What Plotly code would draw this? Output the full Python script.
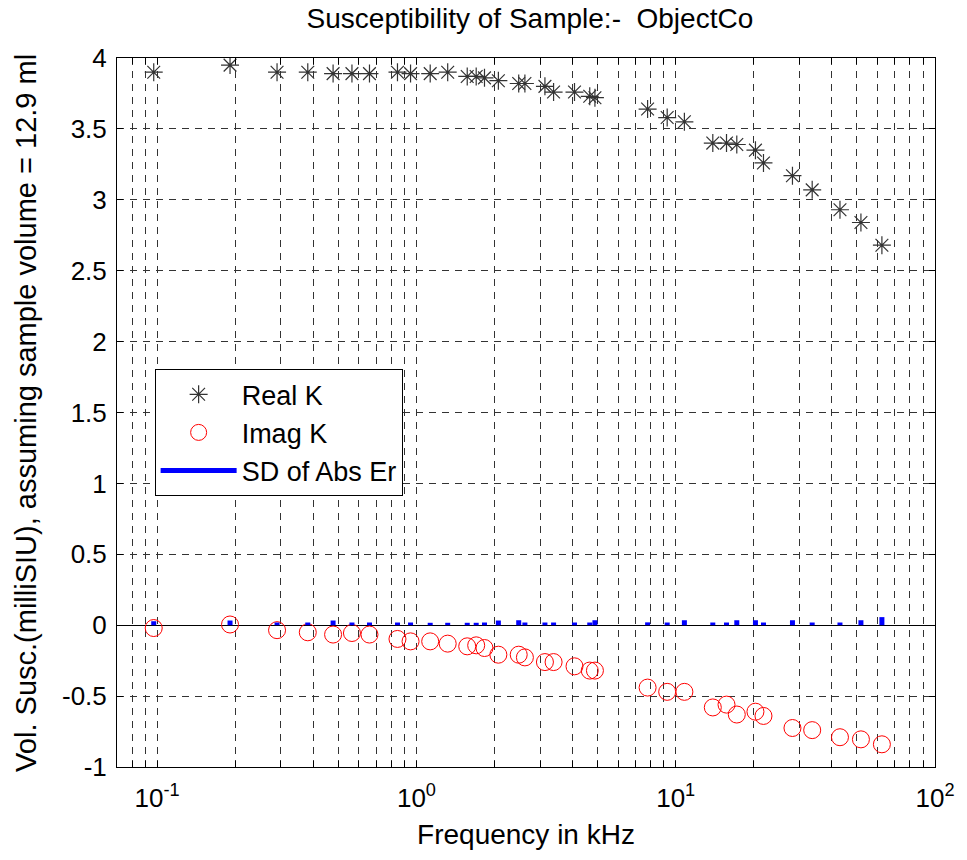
import plotly.graph_objects as go

# ---- data ----
freq_khz = [0.097, 0.191, 0.290, 0.381, 0.477, 0.564, 0.659, 0.845, 0.949, 1.13,
            1.32, 1.57, 1.70, 1.83, 2.07, 2.48, 2.62, 3.13, 3.38, 4.07,
            4.66, 4.88, 7.79, 9.27, 10.8, 13.9, 15.7, 17.2, 20.3, 21.8,
            28.2, 33.6, 43.0, 51.8, 62.4]
real_k = [3.90, 3.95, 3.90, 3.90, 3.89, 3.89, 3.89, 3.90, 3.89, 3.89,
          3.90, 3.87, 3.87, 3.86, 3.84, 3.82, 3.82, 3.80, 3.76, 3.76,
          3.73, 3.72, 3.64, 3.58, 3.55, 3.40, 3.40, 3.39, 3.35, 3.26,
          3.17, 3.07, 2.93, 2.84, 2.68]
imag_k = [-0.02, 0.005, -0.035, -0.05, -0.066, -0.055, -0.066, -0.097, -0.114, -0.114,
          -0.13, -0.149, -0.142, -0.161, -0.208, -0.208, -0.227, -0.26, -0.26, -0.29,
          -0.32, -0.32, -0.44, -0.47, -0.47, -0.58, -0.56, -0.63, -0.61, -0.64,
          -0.725, -0.74, -0.79, -0.805, -0.84]
sd_abs_er = [0.028, 0.033, 0.019, 0.019, 0.033, 0.019, 0.019, 0.019, 0.019, 0.017,
             0.017, 0.017, 0.017, 0.019, 0.033, 0.035, 0.019, 0.019, 0.019, 0.019,
             0.019, 0.035, 0.020, 0.019, 0.035, 0.019, 0.019, 0.035, 0.035, 0.019,
             0.035, 0.019, 0.019, 0.035, 0.057]

decades = [0.01, 0.1, 1, 10]
decade_labels = {0.1: "10<sup>-1</sup>", 1: "10<sup>0</sup>", 10: "10<sup>1</sup>", 100: "10<sup>2</sup>"}
y_ticks = [-1, -0.5, 0, 0.5, 1, 1.5, 2, 2.5, 3, 3.5, 4]
y_tick_labels = ["-1", "-0.5", "0", "0.5", "1", "1.5", "2", "2.5", "3", "3.5", "4"]
y_title = "Vol. Susc.(milliSIU), assuming sample volume = 12.9 ml"

# grid/tick positions at every 1..9 multiple inside the range
x_tickvals, x_ticktext = [], []
for d in decades:
    for m in range(1, 10):
        v = round(d * m, 6)
        if 0.07 <= v <= 100:
            x_tickvals.append(v)
            x_ticktext.append(decade_labels.get(v, ""))
x_tickvals.append(100)
x_ticktext.append(decade_labels[100])

# SD bars as vertical segments from 0 to value
sd_x, sd_y = [], []
for f, s in zip(freq_khz, sd_abs_er):
    sd_x += [f, f, None]
    sd_y += [0, s, None]

FONT = "Liberation Sans, Arial, sans-serif"

fig = go.Figure()
fig.add_trace(go.Scatter(
    x=freq_khz, y=real_k, mode="markers", name="Real K",
    marker=dict(symbol="asterisk-open", size=15, color="#333333",
                line=dict(color="#333333", width=1.2))))
fig.add_trace(go.Scatter(
    x=freq_khz, y=imag_k, mode="markers", name="Imag K",
    marker=dict(symbol="circle-open", size=17, color="#ff0000",
                line=dict(color="#ff0000", width=1))))
fig.add_trace(go.Scatter(
    x=sd_x, y=sd_y, mode="lines", name="SD of Abs Er",
    line=dict(color="#0000ff", width=5)))

grid_color = "#333333"
fig.update_layout(
    width=967, height=860,
    margin=dict(l=117, r=24, t=58, b=93),
    paper_bgcolor="white", plot_bgcolor="white",
    font=dict(family=FONT, color="black", size=26),
    title=dict(text="Susceptibility of Sample:-  ObjectCo", x=0.548, xanchor="center",
               y=0.979, yanchor="middle", yref="container",
               font=dict(size=28, family=FONT, color="black")),
    showlegend=True,
    legend=dict(x=0.046, y=0.561, xanchor="left", yanchor="top",
                bgcolor="white", bordercolor="black", borderwidth=1,
                font=dict(size=27, family=FONT, color="black"),
                itemwidth=76, tracegroupgap=0,
                entrywidth=180, entrywidthmode="pixels"),
    annotations=[dict(text=y_title, textangle=-90, xref="paper", yref="paper",
                      x=-0.112, y=0.5, xanchor="center", yanchor="middle",
                      showarrow=False, font=dict(size=29, family=FONT, color="black"))],
)
fig.update_xaxes(
    type="log", range=[-1.1549, 2],
    tickmode="array", tickvals=x_tickvals, ticktext=x_ticktext,
    showgrid=True, gridcolor=grid_color, griddash="7px,6px", gridwidth=1,
    showline=True, linecolor="black", linewidth=1, mirror="allticks",
    ticks="inside", ticklen=6, tickcolor="black",
    tickfont=dict(size=26, family=FONT),
    ticklabelstandoff=8,
    zeroline=False,
    title=dict(text="Frequency in kHz", font=dict(size=28, family=FONT), standoff=12),
)
fig.update_yaxes(
    range=[-1, 4], tickmode="array", tickvals=y_ticks, ticktext=y_tick_labels,
    showgrid=True, gridcolor=grid_color, griddash="7px,6px", gridwidth=1,
    showline=True, linecolor="black", linewidth=1, mirror="allticks",
    ticks="inside", ticklen=6, tickcolor="black",
    tickfont=dict(size=26, family=FONT),
    ticklabelstandoff=4,
    zeroline=True, zerolinecolor="black", zerolinewidth=1,
)

fig.write_html("out.html")
